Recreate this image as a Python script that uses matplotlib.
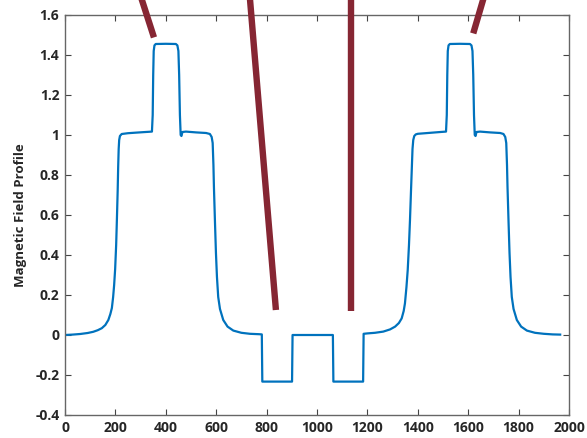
import matplotlib
matplotlib.use("Agg")
import matplotlib.pyplot as plt

# Magnetic field profile
pos = [0, 30, 60, 90, 112, 130, 146, 160, 172, 180, 186, 191, 195, 199, 203, 206, 209, 211, 213, 215, 218, 225, 250, 284, 320, 345,
       348, 350, 352, 355, 360, 400, 440, 446, 450, 453, 456, 459, 462, 466, 480, 520, 560, 575, 582, 586, 589, 591, 595, 599,
       603, 608, 615, 628, 645, 668, 700, 734, 770, 781,
       783, 901, 903, 1063, 1065, 1183, 1185,
       1200, 1230, 1263, 1290, 1310, 1325, 1336, 1344, 1349, 1355, 1360, 1365, 1369, 1373, 1376, 1379, 1382, 1386, 1392, 1400,
       1430, 1460, 1490, 1512, 1515, 1517, 1519, 1522, 1527, 1567, 1607, 1613, 1617, 1620, 1623, 1626, 1629, 1633, 1647,
       1687, 1727, 1740, 1747, 1751, 1754, 1756, 1760, 1764, 1768, 1773, 1780, 1793, 1810, 1833, 1865, 1900, 1935, 1965]
field = [0.0, 0.002, 0.005, 0.010, 0.016, 0.024, 0.034, 0.050, 0.075, 0.105, 0.135, 0.19, 0.25, 0.33, 0.45, 0.58, 0.72, 0.84, 0.93, 0.975, 0.995, 1.005, 1.009, 1.012, 1.015, 1.017,
         1.10, 1.30, 1.42, 1.448, 1.455, 1.456, 1.455, 1.448, 1.42, 1.30, 1.10, 1.00, 0.995, 1.015, 1.017, 1.013, 1.010, 1.005, 0.99, 0.96, 0.85, 0.74, 0.57, 0.41,
         0.29, 0.19, 0.13, 0.075, 0.042, 0.022, 0.011, 0.006, 0.004, 0.003,
         -0.233, -0.233, 0.0, 0.0, -0.233, -0.233, 0.006,
         0.008, 0.011, 0.017, 0.028, 0.042, 0.060, 0.083, 0.12, 0.158, 0.24, 0.325, 0.45, 0.575, 0.72, 0.825, 0.93, 0.975, 0.995, 1.003, 1.006,
         1.009, 1.012, 1.015, 1.017, 1.10, 1.30, 1.42, 1.448, 1.455, 1.456, 1.455, 1.448, 1.42, 1.30, 1.10, 1.00, 0.995, 1.015, 1.017,
         1.013, 1.010, 1.005, 0.99, 0.96, 0.85, 0.74, 0.57, 0.41, 0.29, 0.19, 0.13, 0.075, 0.042, 0.022, 0.011, 0.006, 0.003, 0.002]

# Annotation strokes (start x, start y, end x, end y)
marks_x0 = [304, 734, 1135, 1660]
marks_y0 = [1.68, 1.68, 1.68, 1.68]
marks_x1 = [353, 837, 1135, 1620]
marks_y1 = [1.488, 0.125, 0.12, 1.508]

xticks = [0, 200, 400, 600, 800, 1000, 1200, 1400, 1600, 1800, 2000]
yticks = [-0.4, -0.2, 0, 0.2, 0.4, 0.6, 0.8, 1.0, 1.2, 1.4, 1.6]
ytick_labels = ["-0.4", "-0.2", "0", "0.2", "0.4", "0.6", "0.8", "1", "1.2", "1.4", "1.6"]

plt.rcParams['font.family'] = ['Open Sans', 'DejaVu Sans']
plt.rcParams['font.weight'] = 'bold'

fig = plt.figure(figsize=(5.87, 4.38), dpi=100)
ax = fig.add_axes([65 / 587, 23 / 438, 504 / 587, 400 / 438])

ax.plot(pos, field, color='#0072BD', lw=1.6, solid_joinstyle='round')

for a, b, c, d in zip(marks_x0, marks_y0, marks_x1, marks_y1):
    ax.plot([a, c], [b, d], color='#862633', lw=4.6, solid_capstyle='butt', clip_on=False, zorder=3)

ax.set_xlim(0, 2000)
ax.set_ylim(-0.4, 1.6)
ax.set_xticks(xticks)
ax.set_xticklabels([str(t) for t in xticks])
ax.set_yticks(yticks)
ax.set_yticklabels(ytick_labels)

for s in ax.spines.values():
    s.set_color('#666666')
    s.set_linewidth(1.0)

ax.tick_params(direction='in', length=4, width=0.8, color='#444444', top=True, right=True,
               labelsize=10, labelcolor='#262626', pad=4)
for lab in ax.get_xticklabels() + ax.get_yticklabels():
    lab.set_fontweight('bold')

ax.set_ylabel('Magnetic Field Profile', fontsize=9.5, fontweight='bold', color='#262626', labelpad=6)

fig.savefig('out.png', dpi=100)
